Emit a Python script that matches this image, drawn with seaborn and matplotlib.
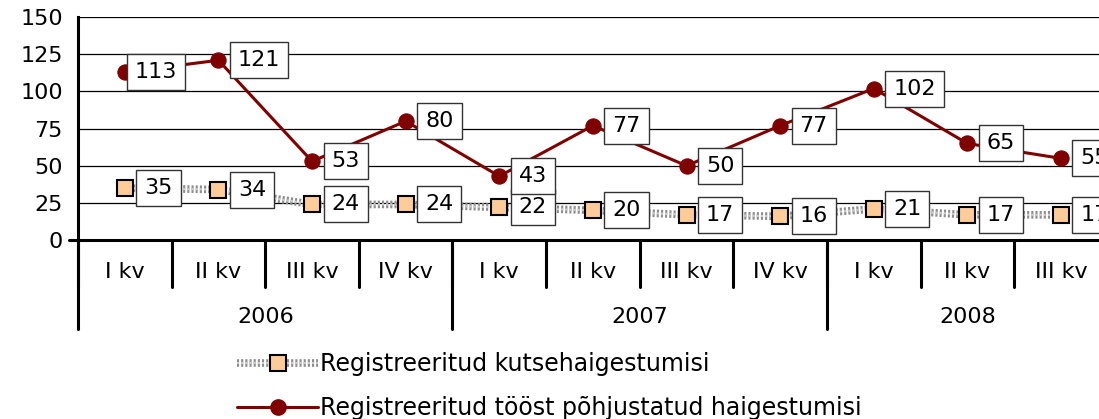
import matplotlib
matplotlib.use("Agg")
import matplotlib.pyplot as plt
import matplotlib.patheffects as pe
from matplotlib.lines import Line2D
from matplotlib.legend_handler import HandlerTuple
import seaborn as sns
import pandas as pd

quarters = ["I kv", "II kv", "III kv", "IV kv", "I kv", "II kv", "III kv", "IV kv", "I kv", "II kv", "III kv"]
years = ["2006", "2007", "2008"]
year_len = [4, 4, 3]
kutse = [35, 34, 24, 24, 22, 20, 17, 16, 21, 17, 17]
toost = [113, 121, 53, 80, 43, 77, 50, 77, 102, 65, 55]
lbl_kutse = "Registreeritud kutsehaigestumisi"
lbl_toost = "Registreeritud tööst põhjustatud haigestumisi"

df = pd.DataFrame({"pos": range(len(quarters)), "kutse": kutse, "toost": toost})

sns.set_style("white")
plt.rcParams["font.family"] = ["DejaVu Sans"]
plt.rcParams["text.color"] = "black"
plt.rcParams["ytick.color"] = "black"
plt.rcParams["ytick.labelcolor"] = "black"

fig = plt.figure(figsize=(10.99, 4.19), dpi=100)
ax = fig.add_axes([0.071, 0.427, 0.937, 0.532])

# textured grey line: dark grey base with light dotted overlay
gray_fx = [pe.Stroke(linewidth=5.5, foreground="#8c8c8c"), pe.Normal()]
sns.lineplot(data=df, x="pos", y="kutse", ax=ax, color="#cfcfcf", lw=1.5, ls=(0, (1, 1)),
             path_effects=gray_fx, zorder=3)
sns.lineplot(data=df, x="pos", y="kutse", ax=ax, lw=0, marker="s", markersize=11,
             markerfacecolor="#ffcc99", markeredgecolor="black", markeredgewidth=1.5, zorder=4)
sns.lineplot(data=df, x="pos", y="toost", ax=ax, color="#800000", lw=2.2,
             marker="o", markersize=11, markeredgecolor="#800000", zorder=4)

box = dict(boxstyle="square,pad=0.36", fc="white", ec="#333333", lw=1)
for i, (a, b) in enumerate(zip(kutse, toost)):
    ax.annotate(str(a), (i, a), xytext=(14, 0), textcoords="offset points",
                ha="left", va="center", fontsize=16, bbox=box, zorder=5)
    ax.annotate(str(b), (i, b), xytext=(7 if i == 0 else 14, 0), textcoords="offset points",
                ha="left", va="center", fontsize=16, bbox=box, zorder=5)

ax.set_xlim(-0.5, len(quarters) - 0.5)
ax.set_ylim(0, 150)
ax.set_yticks(range(0, 151, 25))
ax.yaxis.grid(True, color="black", lw=0.9)
ax.set_axisbelow(True)
ax.tick_params(axis="y", labelsize=16, length=8, width=2.2, direction="out", pad=3)
ax.set_xticks([])
ax.set_xlabel("")
ax.set_ylabel("")
for s in ["top", "right"]:
    ax.spines[s].set_visible(False)
for s in ["left", "bottom"]:
    ax.spines[s].set_linewidth(2.2)
    ax.spines[s].set_color("black")

# two-level category axis
tr = ax.get_xaxis_transform()
for i, q in enumerate(quarters):
    ax.text(i, -0.143, q, transform=tr, ha="center", va="center", fontsize=16)
    ax.plot([i - 0.5, i - 0.5], [0, -0.21], transform=tr, color="black", lw=2.2, clip_on=False)
start = 0
for y, n in zip(years, year_len):
    ax.text(start + n / 2 - 0.5, -0.345, y, transform=tr, ha="center", va="center", fontsize=16)
    ax.plot([start - 0.5, start - 0.5], [0, -0.40], transform=tr, color="black", lw=2.2, clip_on=False)
    start += n
ax.plot([-0.6, -0.5], [0, 0], transform=tr, color="black", lw=2.2, clip_on=False)

gray_h = Line2D([], [], color="#cfcfcf", lw=1.5, ls=(0, (1, 1)), path_effects=gray_fx)
sq_h = Line2D([], [], lw=0, marker="s", markersize=11, markerfacecolor="#ffcc99",
              markeredgecolor="black", markeredgewidth=1.5)
red_h = Line2D([], [], color="#800000", lw=2.2, marker="o", markersize=11, markeredgecolor="#800000")
fig.legend([(gray_h, sq_h), red_h], [lbl_kutse, lbl_toost], loc="center",
           bbox_to_anchor=(0.5, 0.079), frameon=False, fontsize=17, handlelength=3.4,
           handletextpad=0.1, labelspacing=0.85,
           handler_map={tuple: HandlerTuple(ndivide=1, pad=0)})

fig.savefig("out.png", dpi=100)
